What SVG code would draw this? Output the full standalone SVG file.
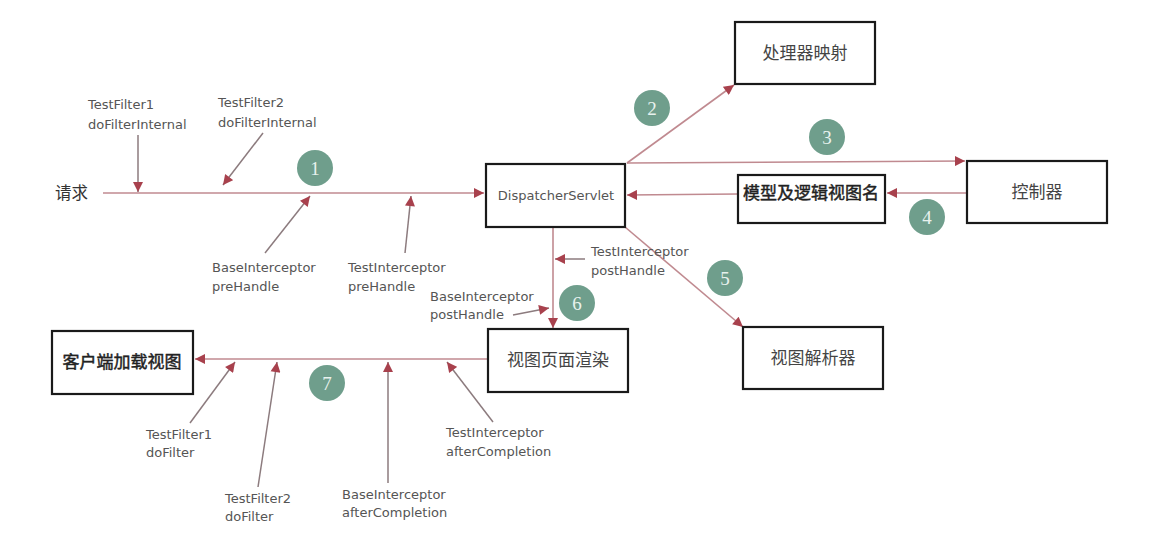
<svg xmlns="http://www.w3.org/2000/svg" width="1152" height="560" viewBox="0 0 1152 560">
<style>
.box{fill:#fff;stroke:#1a1a1a;stroke-width:2.2}
.bt{font-family:"Noto Sans CJK SC","Noto Sans",sans-serif;font-size:17px;fill:#444;text-anchor:middle}
.btb{font-family:"Noto Sans CJK SC","Noto Sans",sans-serif;font-size:17px;fill:#222;stroke:#222;stroke-width:0.45;text-anchor:middle}
.lbl{font-family:"DejaVu Sans",sans-serif;font-size:13px;fill:#555}
.flow{stroke:#c08a90;stroke-width:1.6;fill:none}
.lead{stroke:#8c7b7e;stroke-width:1.5;fill:none}
.badge{fill:#6f9e8c}
.num{font-family:"Liberation Serif",serif;font-size:19px;fill:#e8f2ee;text-anchor:middle}
</style>
<defs>
<marker id="ah" viewBox="0 0 10 10" refX="10" refY="5" markerWidth="11" markerHeight="10" markerUnits="userSpaceOnUse" orient="auto">
<path d="M0,0 L10,5 L0,10 z" fill="#a8414d"/>
</marker>
</defs>
<rect width="1152" height="560" fill="#fff"/>

<g id="connectors">
<line class="flow" x1="103" y1="193" x2="484" y2="193" marker-end="url(#ah)"/>
<line class="flow" x1="627" y1="163" x2="734" y2="85" marker-end="url(#ah)"/>
<line class="flow" x1="627" y1="163" x2="965" y2="161" marker-end="url(#ah)"/>
<line class="flow" x1="967" y1="193" x2="887" y2="193" marker-end="url(#ah)"/>
<line class="flow" x1="738" y1="194" x2="627" y2="195" marker-end="url(#ah)"/>
<line class="flow" x1="625" y1="227" x2="743" y2="327" marker-end="url(#ah)"/>
<line class="flow" x1="553" y1="228" x2="553" y2="328" marker-end="url(#ah)"/>
<line class="flow" x1="488" y1="359" x2="195" y2="359" marker-end="url(#ah)"/>
<line class="lead" x1="138" y1="135" x2="138" y2="192" marker-end="url(#ah)"/>
<line class="lead" x1="263" y1="133" x2="223" y2="185" marker-end="url(#ah)"/>
<line class="lead" x1="265" y1="253" x2="310" y2="196" marker-end="url(#ah)"/>
<line class="lead" x1="405" y1="253" x2="411" y2="196" marker-end="url(#ah)"/>
<line class="lead" x1="585" y1="259" x2="555" y2="259" marker-end="url(#ah)"/>
<line class="lead" x1="513" y1="315" x2="549" y2="308" marker-end="url(#ah)"/>
<line class="lead" x1="190" y1="423" x2="235" y2="362" marker-end="url(#ah)"/>
<line class="lead" x1="258" y1="487" x2="277" y2="362" marker-end="url(#ah)"/>
<line class="lead" x1="388" y1="483" x2="388" y2="362" marker-end="url(#ah)"/>
<line class="lead" x1="493" y1="422" x2="447" y2="362" marker-end="url(#ah)"/>
</g>

<g id="req"><text x="55" y="199" font-family="Noto Sans CJK SC,sans-serif" font-size="16.5" fill="#333">请求</text></g>

<g id="dispatcher"><rect class="box" x="486" y="164" width="139" height="63"/><text x="556" y="200" font-family="DejaVu Sans,sans-serif" font-size="13" fill="#555" text-anchor="middle">DispatcherServlet</text></g>
<g id="handlerMapping"><rect class="box" x="735" y="22" width="140" height="62"/><text class="bt" x="805" y="59">处理器映射</text></g>
<g id="controller"><rect class="box" x="967" y="161" width="140" height="62"/><text class="bt" x="1037" y="198">控制器</text></g>
<g id="modelView"><rect class="box" x="738" y="175" width="147" height="48"/><text class="btb" x="811" y="199">模型及逻辑视图名</text></g>
<g id="viewResolver"><rect class="box" x="743" y="327" width="140" height="62"/><text class="bt" x="813" y="364">视图解析器</text></g>
<g id="render"><rect class="box" x="488" y="329" width="140" height="63"/><text class="bt" x="558" y="366">视图页面渲染</text></g>
<g id="client"><rect class="box" x="52" y="331" width="141" height="63"/><text class="btb" x="122" y="368">客户端加载视图</text></g>

<g id="labels">
<text class="lbl" x="88" y="109">TestFilter1<tspan x="88" y="129">doFilterInternal</tspan></text>
<text class="lbl" x="218" y="107">TestFilter2<tspan x="218" y="127">doFilterInternal</tspan></text>
<text class="lbl" x="212" y="272">BaseInterceptor<tspan x="212" y="291">preHandle</tspan></text>
<text class="lbl" x="348" y="272">TestInterceptor<tspan x="348" y="291">preHandle</tspan></text>
<text class="lbl" x="591" y="256">TestInterceptor<tspan x="591" y="275">postHandle</tspan></text>
<text class="lbl" x="430" y="301">BaseInterceptor<tspan x="430" y="319">postHandle</tspan></text>
<text class="lbl" x="146" y="439">TestFilter1<tspan x="146" y="457">doFilter</tspan></text>
<text class="lbl" x="225" y="503">TestFilter2<tspan x="225" y="521">doFilter</tspan></text>
<text class="lbl" x="342" y="499">BaseInterceptor<tspan x="342" y="517">afterCompletion</tspan></text>
<text class="lbl" x="446" y="437">TestInterceptor<tspan x="446" y="456">afterCompletion</tspan></text>
</g>

<g id="step1"><circle class="badge" cx="315" cy="168" r="18"/><text class="num" x="315" y="175">1</text></g>
<g id="step2"><circle class="badge" cx="652" cy="108" r="18"/><text class="num" x="652" y="115">2</text></g>
<g id="step3"><circle class="badge" cx="827" cy="137" r="18"/><text class="num" x="827" y="144">3</text></g>
<g id="step4"><circle class="badge" cx="927" cy="217" r="18"/><text class="num" x="927" y="224">4</text></g>
<g id="step5"><circle class="badge" cx="725" cy="278" r="18"/><text class="num" x="725" y="285">5</text></g>
<g id="step6"><circle class="badge" cx="577" cy="303" r="18"/><text class="num" x="577" y="310">6</text></g>
<g id="step7"><circle class="badge" cx="327" cy="383" r="18"/><text class="num" x="327" y="390">7</text></g>
</svg>
